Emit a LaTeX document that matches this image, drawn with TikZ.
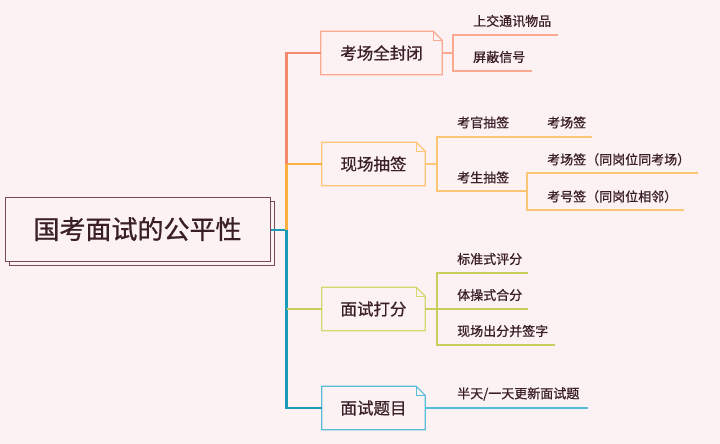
\documentclass[tikz,border=0pt]{standalone}
\usepackage{fontspec}
\setmainfont{Noto Sans CJK SC}[FakeBold=0.8]
\usepackage{tikz}
\usetikzlibrary{calc}
\usetikzlibrary{shadows}
\definecolor{fond}{HTML}{FCF1F3}
\definecolor{bordeau}{HTML}{7B4A55}
\definecolor{texte}{HTML}{3A1F27}
\definecolor{rouge}{HTML}{F28A6B}
\definecolor{rougeclair}{HTML}{F8A98F}
\definecolor{orange}{HTML}{FBB03F}
\definecolor{orangeclair}{HTML}{FDC676}
\definecolor{vertjaune}{HTML}{C9CF5A}
\definecolor{vertclair}{HTML}{D3D870}
\definecolor{bleu}{HTML}{1A9BB8}
\definecolor{bleuclair}{HTML}{55BDD8}
\tikzset{
	racine/.style={draw=bordeau, line width=1pt, fill=fond, minimum width=265pt, minimum height=64pt,
		font=\fontsize{26}{30}\selectfont, text=texte,
		copy shadow={shadow xshift=4.5pt, shadow yshift=-4.5pt}},
	branche/.style={minimum height=43pt, inner sep=0pt, font=\fontsize{16.5}{20}\selectfont, text=texte},
	feuille/.style={anchor=west, inner sep=0pt, font=\fontsize{13}{15}\selectfont, text=texte},
	tronc/.style={line width=2.4pt},
	fine/.style={line width=1.4pt}
}
% Boite avec coin corne :
\newcommand{\boitecornee}[2]{%
	\draw[#2, line width=1.2pt] (#1.north west) -- ([xshift=-9pt]#1.north east) -- ([yshift=-9pt]#1.north east)
		-- (#1.south east) -- (#1.south west) -- cycle;
	\draw[#2, line width=1.2pt] ([xshift=-9pt]#1.north east) |- ([yshift=-9pt]#1.north east);}
\begin{document}
\begin{tikzpicture}[x=1pt,y=-1pt]
%					Fond :
					\fill[fond] (0,0) rectangle (720,444);
%					Noeud central :
					\node[racine] (racine) at (137.5,229) {国考面试的公平性};
%					Branches :
					\node[branche, minimum width=121pt] (b1) at (381.5,53) {考场全封闭};
					\node[branche, minimum width=103pt] (b2) at (373.5,164) {现场抽签};
					\node[branche, minimum width=103pt] (b3) at (373.5,309) {面试打分};
					\node[branche, minimum width=103pt] (b4) at (373.5,408) {面试题目};
					\boitecornee{b1}{rougeclair}
					\boitecornee{b2}{orangeclair}
					\boitecornee{b3}{vertclair}
					\boitecornee{b4}{bleuclair}
%					Tracé du tronc :
					\coordinate (t0) at (286.5,230);
					\draw[bleu,tronc] (racine.east |- t0) -- (t0) |- (b4.west);
					\draw[orange,tronc] (t0) |- (b2.west);
					\draw[rouge,tronc] (t0 |- b2.west) |- (b1.west);
					\draw[vertjaune,fine] (t0 |- b3.west) -- (b3.west);
%					Branche 1 :
					\coordinate (v1) at (453,53);
					\coordinate (f11) at (558,35);
					\coordinate (f12) at (532,71);
					\draw[rougeclair,fine] (b1.east) -- (v1);
					\draw[rougeclair,fine] (f11) -| (v1) |- (f12);
					\node[feuille] (l11) at (473,21) {上交通讯物品};
					\node[feuille] (l12) at (473,57) {屏蔽信号};
%					Branche 2 :
					\coordinate (v2) at (437,164);
					\coordinate (f21) at (592,137);
					\coordinate (f22) at (527,191);
					\coordinate (f23) at (698,173);
					\coordinate (f24) at (684,210);
					\draw[orangeclair,fine] (b2.east) -- (v2);
					\draw[orangeclair,fine] (f21) -| (v2) |- (f22);
					\draw[orangeclair,fine] (f23) -| (f22) |- (f24);
					\node[feuille] (l21) at (457,122.5) {考官抽签};
					\node[feuille] (l22) at (547,122.5) {考场签};
					\node[feuille] (l23) at (457,177.5) {考生抽签};
					\node[feuille] (l24) at (547,159.5) {考场签（同岗位同考场）};
					\node[feuille] (l25) at (547,196.5) {考号签（同岗位相邻）};
%					Branche 3 :
					\coordinate (v3) at (437,309);
					\coordinate (f31) at (528,273);
					\coordinate (f32) at (528,309);
					\coordinate (f33) at (555,345);
					\draw[vertjaune,fine] (b3.east) -- (f32);
					\draw[vertjaune,fine] (f31) -| (v3) |- (f33);
					\node[feuille] (l31) at (457,259) {标准式评分};
					\node[feuille] (l32) at (457,295) {体操式合分};
					\node[feuille] (l33) at (457,331) {现场出分并签字};
%					Branche 4 :
					\coordinate (f41) at (588,408);
					\draw[bleuclair,fine] (b4.east) -- (f41);
					\node[feuille] (l41) at (457,394) {半天/一天更新面试题};
				\end{tikzpicture}
\end{document}
